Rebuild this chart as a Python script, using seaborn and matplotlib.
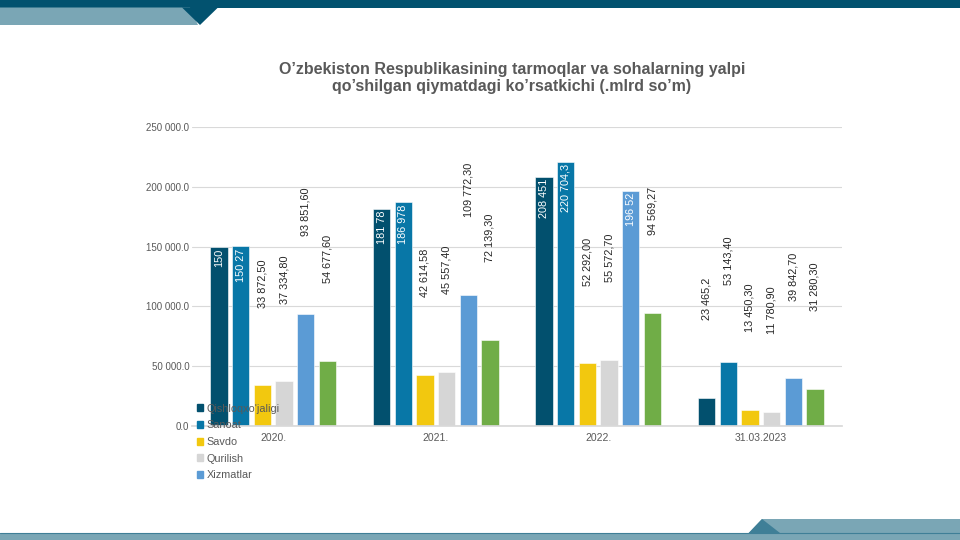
import seaborn as sns
import matplotlib.pyplot as plt
import pandas as pd
from matplotlib.patches import Polygon, Rectangle

sns.set_theme(style="white")
plt.rcParams['font.family'] = ['Liberation Sans', 'DejaVu Sans']

# data
yillar = ["2020.", "2021.", "2022.", "31.03.2023"]
sohalar = ["Qishloqxo'jaligi", "Sanoat", "Savdo", "Qurilish", "Xizmatlar", "Boshqa"]
qishloq = [149800, 181780, 208451, 23465.2]
sanoat = [150270, 186978, 220704.3, 53143.4]
savdo = [33872.5, 42614.58, 52292.0, 13450.3]
qurilish = [37334.8, 45557.4, 55572.7, 11780.9]
xizmat = [93851.6, 109772.3, 196520, 39842.7]
boshqa = [54677.6, 72139.3, 94569.27, 31280.3]
# label texts as they appear (the ones inside bars are cut at bar top)
lab_qishloq = ["150", "181 78", "208 451", "23 465,2"]
lab_sanoat = ["150 27", "186 978", "220 704,3", "53 143,40"]
lab_savdo = ["33 872,50", "42 614,58", "52 292,00", "13 450,30"]
lab_qurilish = ["37 334,80", "45 557,40", "55 572,70", "11 780,90"]
lab_xizmat = ["93 851,60", "109 772,30", "196 52", "39 842,70"]
lab_boshqa = ["54 677,60", "72 139,30", "94 569,27", "31 280,30"]

ranglar = ["#02506e", "#0877a7", "#f2c80f", "#d6d6d6", "#5b9bd5", "#70ad47"]

seriyalar = [qishloq, sanoat, savdo, qurilish, xizmat, boshqa]
yorliqlar = [lab_qishloq, lab_sanoat, lab_savdo, lab_qurilish, lab_xizmat, lab_boshqa]
rows = []
for s, vals in zip(sohalar, seriyalar):
    for y, v in zip(yillar, vals):
        rows.append({"yil": y, "soha": s, "qiymat": v})
df = pd.DataFrame(rows)

fig = plt.figure(figsize=(9.6, 5.4), dpi=100)

# slide decoration
bg = fig.add_axes([0, 0, 1, 1], zorder=-5)
bg.set_xlim(0, 960)
bg.set_ylim(540, 0)
bg.axis("off")
bg.add_patch(Rectangle((0, 0), 960, 7.5, color="#02526f", lw=0))
bg.add_patch(Polygon([(0, 7.5), (190, 7.5), (198, 25), (0, 25)], color="#7aa6b5", lw=0))
bg.add_patch(Polygon([(182, 7.5), (218, 7.5), (200, 25)], color="#02526f", lw=0))
bg.add_patch(Polygon([(762, 519), (960, 519), (960, 540), (742, 540)], color="#7aa6b5", lw=0))
bg.add_patch(Polygon([(762, 519), (780, 533), (742, 540)], color="#3f7f97", lw=0))
bg.add_patch(Rectangle((0, 533), 960, 7, color="#7aa6b5", lw=0))
bg.plot([0, 960], [533, 533], color="#3f7f97", lw=0.8)

ax = fig.add_axes([192 / 960, 114 / 540, 650 / 960, 299 / 540])
sns.barplot(data=df, x="yil", y="qiymat", hue="soha", order=yillar,
            hue_order=sohalar, palette=ranglar, width=0.8, gap=0.2,
            saturation=1, legend=False, ax=ax)

ax.set_ylim(0, 250000)
ax.set_xlim(-0.5, 3.5)
ticks = [0, 50000, 100000, 150000, 200000, 250000]
ax.set_yticks(ticks)
ax.set_yticklabels([f"{t:,.1f}".replace(",", " ") for t in ticks],
                   fontsize=7, color="#595959")
ax.tick_params(axis="x", labelsize=7.5, labelcolor="#595959", length=0, pad=5)
ax.tick_params(axis="y", length=0, pad=2)
ax.grid(axis="y", color="#d9d9d9", lw=0.8)
ax.set_axisbelow(True)
for sp in ["top", "right", "left"]:
    ax.spines[sp].set_visible(False)
ax.spines["bottom"].set_color("#d9d9d9")
ax.set_xlabel("")
ax.set_ylabel("")

for cont, labs in zip(ax.containers, yorliqlar):
    for bar, t in zip(cont, labs):
        bar.set_edgecolor("white")
        bar.set_linewidth(0.4)
        xc = bar.get_x() + bar.get_width() / 2
        h = bar.get_height()
        if h > 120000:
            ax.annotate(t, (xc, h), xytext=(0, -1.5), textcoords="offset points",
                        rotation=90, ha="center", va="top", fontsize=7.8,
                        color="white", annotation_clip=False)
        else:
            ax.annotate(t, (xc, h), xytext=(0, 56), textcoords="offset points",
                        rotation=90, ha="center", va="bottom", fontsize=7.8,
                        color="#262626", annotation_clip=False)

handles = [Rectangle((0, 0), 1, 1, color=c) for c in ranglar[:5]]
fig.legend(handles, sohalar[:5], loc="upper left",
           bbox_to_anchor=(189 / 960, 1 - 396 / 540), frameon=False,
           fontsize=7.8, labelcolor="#595959", handlelength=0.6,
           handleheight=0.6, handletextpad=0.3, labelspacing=0.62,
           borderpad=0.2)

fig.text(512 / 960, 1 - 78 / 540,
         "O’zbekiston Respublikasining tarmoqlar va sohalarning yalpi\n"
         "qo’shilgan qiymatdagi ko’rsatkichi (.mlrd so’m)",
         ha="center", va="center", fontsize=11.5, fontweight="bold",
         color="#595959", linespacing=1.15)

fig.savefig("out.png", dpi=100)
